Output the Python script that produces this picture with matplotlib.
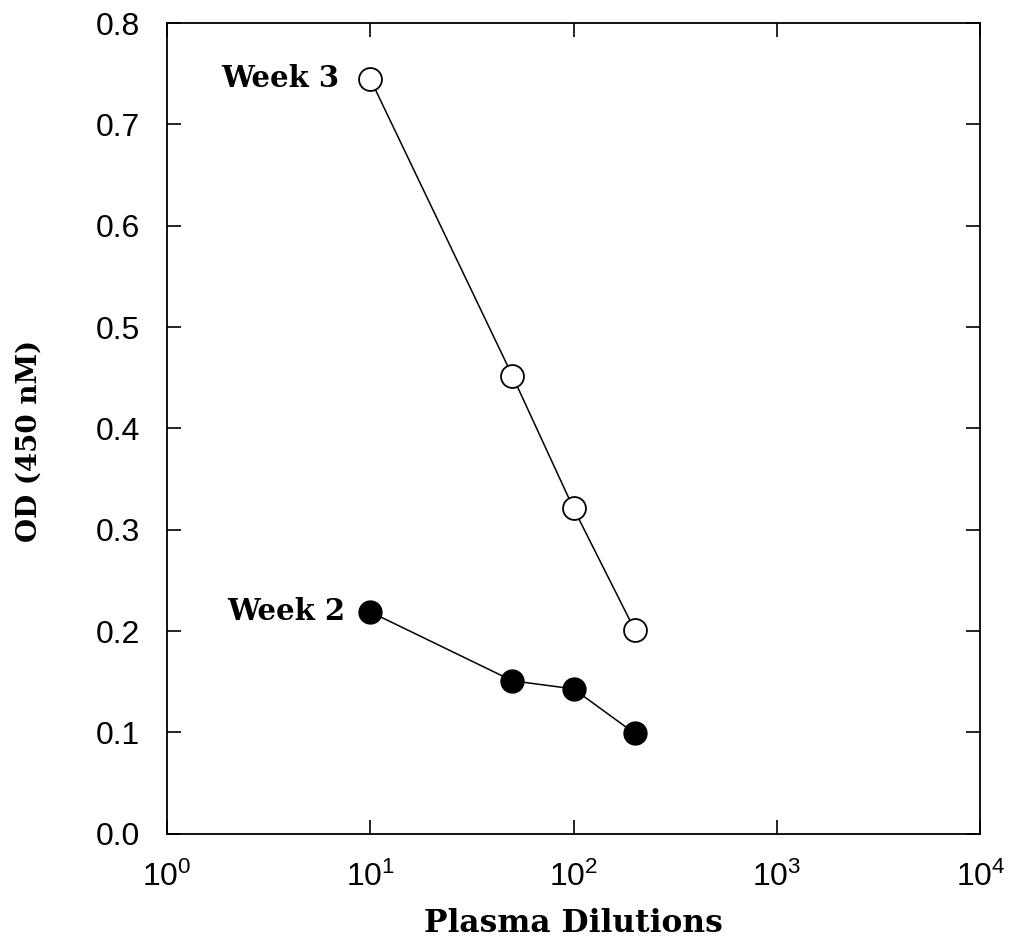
import matplotlib
matplotlib.use('Agg')
import matplotlib.pyplot as plt

# values
dilutions = [10, 50, 100, 200]
week3_od = [0.745, 0.452, 0.321, 0.201]
week2_od = [0.219, 0.151, 0.143, 0.099]

plt.rcParams['font.family'] = 'Liberation Sans'
plt.rcParams['mathtext.fontset'] = 'custom'
plt.rcParams['mathtext.rm'] = 'Liberation Sans'
plt.rcParams['mathtext.it'] = 'Liberation Sans'

fig = plt.figure(figsize=(10.17, 9.39), dpi=100)
ax = fig.add_axes([0.164, 0.112, 0.8, 0.8635])

# week 3 - open circles
ax.plot(dilutions, week3_od, color='k', lw=1.1, marker='o', ms=16.5,
        mfc='white', mec='k', mew=1.3)
# week 2 - filled circles
ax.plot(dilutions, week2_od, color='k', lw=1.1, marker='o', ms=16.5,
        mfc='k', mec='k')

label_font = dict(family='DejaVu Serif', weight='bold', size=21)
ax.annotate('Week 3', xy=(dilutions[0], week3_od[0]), xytext=(-22, 0),
            textcoords='offset points', ha='right', va='center', **label_font)
ax.annotate('Week 2', xy=(dilutions[0], week2_od[0]), xytext=(-18, 0),
            textcoords='offset points', ha='right', va='center', **label_font)

ax.set_xscale('log')
ax.set_xlim(1, 1e4)
ax.set_ylim(0, 0.8)
ax.set_xticks([1, 10, 100, 1000, 10000])
ax.xaxis.set_minor_locator(matplotlib.ticker.NullLocator())
ax.set_yticks([0, 0.1, 0.2, 0.3, 0.4, 0.5, 0.6, 0.7, 0.8])
ax.yaxis.set_major_formatter(matplotlib.ticker.FormatStrFormatter('%.1f'))

ax.tick_params(direction='in', length=10, width=1.2, top=True, right=True,
               labelsize=23)
ax.tick_params(axis='y', pad=19)
ax.tick_params(axis='x', pad=20)
for sp in ax.spines.values():
    sp.set_linewidth(1.3)

ax.set_xlabel('Plasma Dilutions', family='DejaVu Serif', weight='bold', size=22.5)
ax.set_ylabel('OD (450 nM)', family='DejaVu Serif', weight='bold', size=20)
ax.xaxis.set_label_coords(0.5, -0.091)
ax.yaxis.set_label_coords(-0.152, 0.485)

fig.savefig('out.png', dpi=100)
